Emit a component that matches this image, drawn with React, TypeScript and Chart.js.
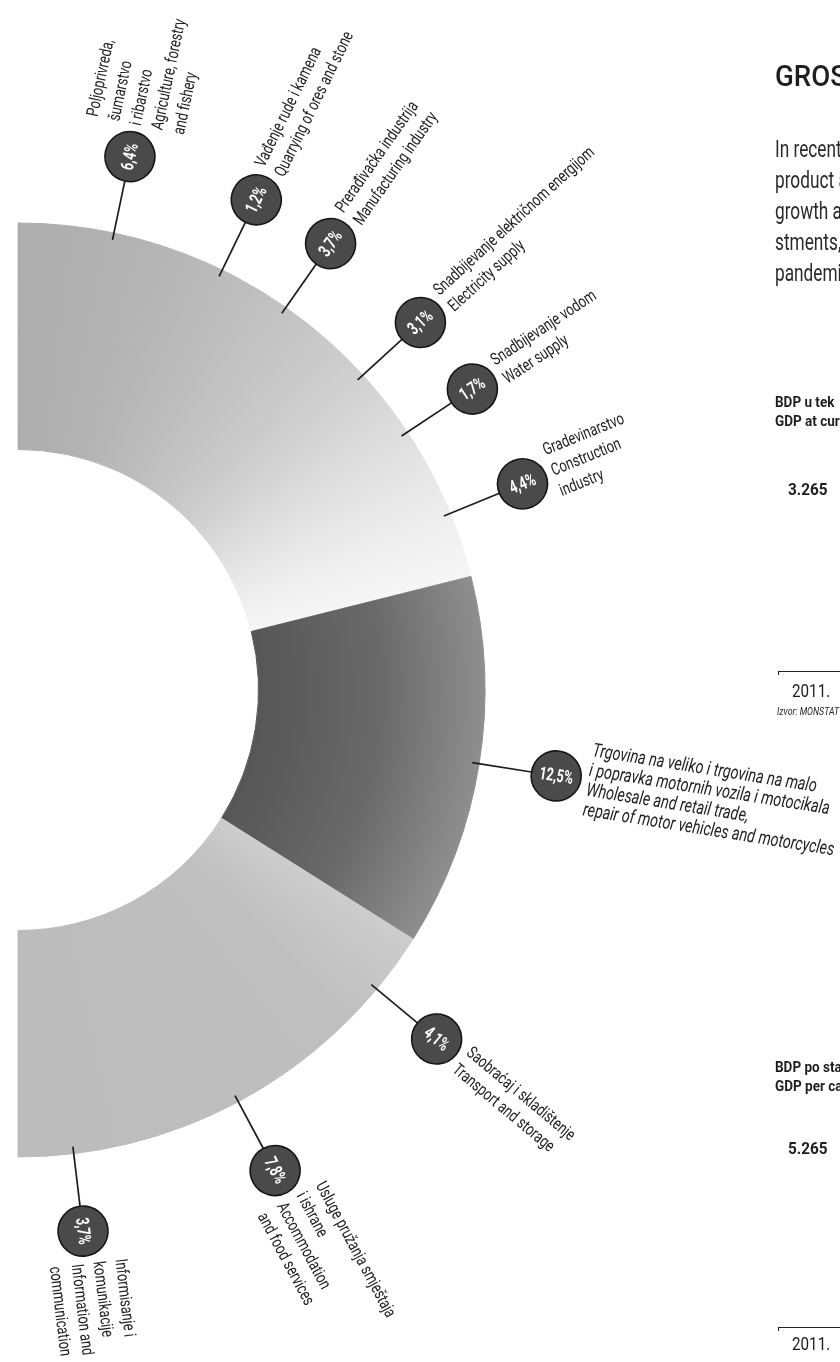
import React, { useEffect, useRef } from "react";
import { Chart, registerables } from "chart.js";

Chart.register(...registerables);

// ---------- data ----------
const sectorShares = [6.4, 1.2, 3.7, 3.1, 1.7, 4.4, 12.5, 4.1, 7.8, 3.7];
const percentLabels = ["6,4%", "1,2%", "3,7%", "3,1%", "1,7%", "4,4%", "12,5%", "4,1%", "7,8%", "3,7%"];
const sectorLabels: string[][] = [
  ["Poljoprivreda,", "šumarstvo", "i ribarstvo", "Agriculture, forestry", "and fishery"],
  ["Vađenje rude i kamena", "Quarrying of ores and stone"],
  ["Prerađivačka industrija", "Manufacturing industry"],
  ["Snadbijevanje električnom energijom", "Electricity supply"],
  ["Snadbijevanje vodom", "Water supply"],
  ["Gradevinarstvo", "Construction", "industry"],
  [
    "Trgovina na veliko i trgovina na malo",
    "i popravka motornih vozila i motocikala",
    "Wholesale and retail trade,",
    "repair of motor vehicles and motorcycles",
  ],
  ["Saobraćaj i skladištenje", "Transport and storage"],
  ["Usluge pružanja smještaja", "i ishrane", "Accommodation", "and food services"],
  ["Informisanje i", "komunikacije", "Information and", "communication"],
];
const highlightedSector = 6;

const sideTitle = "GROS";
const sideParagraph = ["In recent", "product a", "growth a", "stments,", "pandemi"];
const sideChart1 = ["BDP u tek", "GDP at cur"];
const sideValue1 = "3.265";
const sideChart2 = ["BDP po sta", "GDP per ca"];
const sideValue2 = "5.265";
const sideYear = "2011.";
const sideSource = "Izvor: MONSTAT";

// ---------- style ----------
const FONT = "Roboto, 'Liberation Sans', 'DejaVu Sans', sans-serif";
const OUTER_R = 467;
const CUTOUT = "51.5%";
const CALLOUT_GAP = 78;
const BUBBLE_R = 25;
const NARROW = 0.76;

function centerOf(chart: any) {
  const a = chart.chartArea;
  return { cx: (a.left + a.right) / 2 - 0.5 * OUTER_R, cy: (a.top + a.bottom) / 2 };
}

function fillFor(chart: any, index: number) {
  if (!chart.chartArea) return "#bbbbbb";
  const { cx, cy } = centerOf(chart);
  const ctx = chart.ctx as CanvasRenderingContext2D;
  if (index === highlightedSector) {
    const g = ctx.createRadialGradient(cx, cy, OUTER_R * 0.5, cx, cy, OUTER_R);
    g.addColorStop(0, "#555555");
    g.addColorStop(0.55, "#696969");
    g.addColorStop(1, "#8e8e8e");
    return g;
  }
  const g = (ctx as any).createConicGradient(-Math.PI / 2, cx, cy);
  const st = (deg: number, c: string) => g.addColorStop(deg / 360, c);
  st(0, "#adadad");
  st(15, "#b3b3b3");
  st(30, "#bebebe");
  st(45, "#cdcdcd");
  st(57, "#dfdfdf");
  st(67, "#ededed");
  st(76, "#f6f6f6");
  st(122, "#cdcdcd");
  st(135, "#bfbfbf");
  st(180, "#bcbcbc");
  st(360, "#bcbcbc");
  return g;
}

function narrowText(ctx: CanvasRenderingContext2D, t: string, x: number, y: number, sx: number) {
  ctx.save();
  ctx.translate(x, y);
  ctx.scale(sx, 1);
  ctx.fillText(t, 0, 0);
  ctx.restore();
}

const calloutPlugin = {
  id: "callouts",
  afterDatasetsDraw(chart: any) {
    const ctx = chart.ctx as CanvasRenderingContext2D;
    const meta = chart.getDatasetMeta(0);
    meta.data.forEach((el: any, i: number) => {
      const p = el.getProps(["x", "y", "startAngle", "endAngle", "outerRadius"], true);
      const mid = (p.startAngle + p.endAngle) / 2;
      const c = Math.cos(mid);
      const s = Math.sin(mid);
      const r1 = p.outerRadius - 7;
      const dist = p.outerRadius + CALLOUT_GAP;
      ctx.save();
      ctx.strokeStyle = "#1c1c1c";
      ctx.lineWidth = 1.7;
      ctx.beginPath();
      ctx.moveTo(p.x + c * r1, p.y + s * r1);
      ctx.lineTo(p.x + c * (dist - BUBBLE_R), p.y + s * (dist - BUBBLE_R));
      ctx.stroke();
      ctx.translate(p.x + c * dist, p.y + s * dist);
      ctx.rotate(mid);
      ctx.beginPath();
      ctx.arc(0, 0, BUBBLE_R, 0, Math.PI * 2);
      ctx.fillStyle = "#4a4a4a";
      ctx.fill();
      ctx.lineWidth = 1.6;
      ctx.strokeStyle = "#161616";
      ctx.stroke();
      ctx.fillStyle = "#ffffff";
      ctx.font = `bold 18px ${FONT}`;
      ctx.textAlign = "center";
      ctx.textBaseline = "middle";
      narrowText(ctx, percentLabels[i], 0, 1, 0.7);
      const lines = sectorLabels[i];
      const italic = i === highlightedSector;
      const lh = italic ? 20 : 22;
      ctx.font = `${italic ? "italic " : ""}${italic ? 19 : 17}px ${FONT}`;
      ctx.fillStyle = "#222222";
      ctx.textAlign = "left";
      lines.forEach((t, k) => {
        narrowText(ctx, t, BUBBLE_R + 7, (k - (lines.length - 1) / 2) * lh, NARROW);
      });
      ctx.restore();
    });
  },
};

const textBase: React.CSSProperties = {
  position: "absolute",
  fontFamily: FONT,
  color: "#1e1e1e",
  whiteSpace: "nowrap",
  lineHeight: 1,
  transformOrigin: "0 0",
};

export default function App() {
  const ref = useRef<HTMLCanvasElement>(null);

  useEffect(() => {
    if (!ref.current) return;
    const chart = new Chart(ref.current, {
      type: "doughnut",
      data: {
        labels: sectorLabels.map((l) => l.join(" ")),
        datasets: [
          {
            data: sectorShares,
            backgroundColor: (c: any) => fillFor(c.chart, c.dataIndex),
            borderColor: (c: any) => fillFor(c.chart, c.dataIndex),
            borderWidth: 1,
          },
        ],
      },
      options: {
        responsive: false,
        maintainAspectRatio: false,
        animation: false,
        events: [],
        rotation: 0,
        circumference: 180,
        cutout: CUTOUT,
        radius: OUTER_R,
        layout: { padding: { left: 18, right: 840 - 18 - OUTER_R, top: 18, bottom: 0 } },
        plugins: { legend: { display: false }, tooltip: { enabled: false } },
      } as any,
      plugins: [calloutPlugin],
    });
    return () => chart.destroy();
  }, []);

  return (
    <div
      style={{
        position: "absolute",
        left: 0,
        top: 0,
        width: 840,
        height: 1362,
        overflow: "hidden",
        background: "#ffffff",
      }}
    >
      <canvas
        ref={ref}
        width={840}
        height={1362}
        style={{ position: "absolute", left: 0, top: 0, width: 840, height: 1362 }}
      />
      <div style={{ ...textBase, left: 775, top: 61, fontSize: 30, fontWeight: 500, transform: "scaleX(0.92)" }}>
        {sideTitle}
      </div>
      {sideParagraph.map((t, i) => (
        <div
          key={t}
          style={{ ...textBase, left: 775, top: 138 + i * 31, fontSize: 23, color: "#2a2a2a", transform: "scaleX(0.75)" }}
        >
          {t}
        </div>
      ))}
      {sideChart1.map((t, i) => (
        <div key={t} style={{ ...textBase, left: 775, top: 395 + i * 19, fontSize: 15, fontWeight: 700, transform: "scaleX(0.9)" }}>
          {t}
        </div>
      ))}
      <div style={{ ...textBase, left: 788, top: 481, fontSize: 17, fontWeight: 700, transform: "scaleX(0.9)" }}>
        {sideValue1}
      </div>
      <div style={{ position: "absolute", left: 778, top: 671, width: 70, borderTop: "1.5px solid #222" }} />
      <div style={{ position: "absolute", left: 778, top: 671, height: 4, borderLeft: "1.5px solid #222" }} />
      <div style={{ ...textBase, left: 792, top: 681, fontSize: 19, transform: "scaleX(0.8)" }}>{sideYear}</div>
      <div style={{ ...textBase, left: 777, top: 706, fontSize: 11, fontStyle: "italic", transform: "scaleX(0.8)" }}>
        {sideSource}
      </div>
      {sideChart2.map((t, i) => (
        <div key={t} style={{ ...textBase, left: 775, top: 1060 + i * 19, fontSize: 15, fontWeight: 700, transform: "scaleX(0.9)" }}>
          {t}
        </div>
      ))}
      <div style={{ ...textBase, left: 788, top: 1140, fontSize: 17, fontWeight: 700, transform: "scaleX(0.9)" }}>
        {sideValue2}
      </div>
      <div style={{ position: "absolute", left: 778, top: 1327, width: 70, borderTop: "1.5px solid #222" }} />
      <div style={{ position: "absolute", left: 778, top: 1327, height: 4, borderLeft: "1.5px solid #222" }} />
      <div style={{ ...textBase, left: 792, top: 1334, fontSize: 19, transform: "scaleX(0.8)" }}>{sideYear}</div>
    </div>
  );
}
